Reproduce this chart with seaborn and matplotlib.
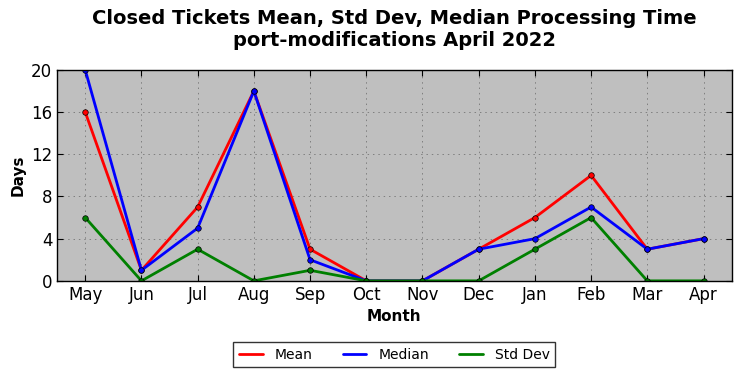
import pandas as pd
import matplotlib.pyplot as plt
import seaborn as sns

months = ['May', 'Jun', 'Jul', 'Aug', 'Sep', 'Oct', 'Nov', 'Dec', 'Jan', 'Feb', 'Mar', 'Apr']
mean_vals = [16, 1, 7, 18, 3, 0, 0, 3, 6, 10, 3, 4]
median_vals = [20, 1, 5, 18, 2, 0, 0, 3, 4, 7, 3, 4]
std_vals = [6, 0, 3, 0, 1, 0, 0, 0, 3, 6, 0, 0]

# long form for seaborn
df = pd.DataFrame({
    'Month': months * 3,
    'Days': mean_vals + median_vals + std_vals,
    'Series': ['Mean'] * 12 + ['Median'] * 12 + ['Std Dev'] * 12,
})
df['x'] = list(range(12)) * 3

sns.set_style('ticks')
plt.rcParams['font.family'] = ['DejaVu Sans']
plt.rcParams['text.color'] = 'black'
plt.rcParams['axes.labelcolor'] = 'black'
plt.rcParams['xtick.color'] = 'black'
plt.rcParams['ytick.color'] = 'black'

fig = plt.figure(figsize=(7.42, 3.78), dpi=100)
ax = fig.add_axes([0.077, 0.257, 0.909, 0.558])
ax.set_facecolor('#bfbfbf')

sns.lineplot(data=df, x='x', y='Days', hue='Series', ax=ax,
             palette={'Mean': 'red', 'Median': 'blue', 'Std Dev': 'green'},
             linewidth=2, marker='o', markersize=4, markeredgecolor='k',
             markeredgewidth=0.5)

ax.set_xlim(-0.5, 11.5)
ax.set_ylim(0, 20)
ax.set_xticks(range(12))
ax.set_xticklabels(months)
ax.set_yticks([0, 4, 8, 12, 16, 20])
ax.tick_params(direction='in', top=True, right=True, labelsize=12, length=4)
ax.grid(True, linestyle=(0, (1.5, 4)), color='#7f7f7f', linewidth=0.7)
for s in ax.spines.values():
    s.set_color('black')
    s.set_linewidth(1)

ax.set_xlabel('Month', fontsize=11, fontweight='bold')
ax.set_ylabel('Days', fontsize=11, fontweight='bold')
ax.set_title('Closed Tickets Mean, Std Dev, Median Processing Time\nport-modifications April 2022',
             fontsize=14, fontweight='bold', pad=17)

leg = ax.legend(loc='center', bbox_to_anchor=(0.5, -0.35), ncol=3, fontsize=10,
                frameon=True, fancybox=False, edgecolor='black', handlelength=1.7,
                handletextpad=0.85, columnspacing=2.2, borderpad=0.4)
leg.get_frame().set_linewidth(1)
for h in leg.get_lines():
    h.set_marker('')

fig.savefig('out.png', dpi=100)
